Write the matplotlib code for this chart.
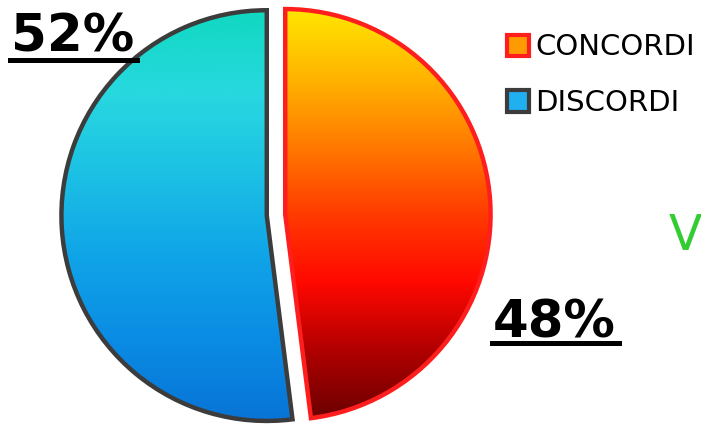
import numpy as np
import matplotlib
matplotlib.use("Agg")
import matplotlib.pyplot as plt
from matplotlib.colors import LinearSegmentedColormap
from matplotlib.patches import Rectangle
from matplotlib.lines import Line2D

labels = ["CONCORDI", "DISCORDI"]
shares = [48, 52]
pct_labels = ["48%", "52%"]

# vertical gradient stops for each slice (top -> bottom)
grad_concordi = ["#FFE600", "#FFB400", "#FF7A00", "#FF3A00", "#FF0800", "#B00000", "#6A0000"]
grad_discordi = ["#10D8C0", "#28D8E0", "#1CC0E4", "#10A4E8", "#0A8CE4", "#0874D6"]
edge_colors = ["#FF1E1E", "#3C3C3C"]

fig = plt.figure(figsize=(7.01, 4.25), dpi=100)
W, H = 701, 425

# pie axes: 460 px square centred on (276, 215) from top-left
ax = fig.add_axes([46 / W, (210 - 230) / H, 460 / W, 460 / H])
ax.axis("off")

wedges, _ = ax.pie(shares, startangle=90, counterclock=False,
                   explode=[0.045, 0.045], radius=1.0)

for w, stops, ec in zip(wedges, [grad_concordi, grad_discordi], edge_colors):
    w.set_facecolor("none")
    w.set_edgecolor(ec)
    w.set_linewidth(3.2)
    w.set_zorder(3)
    cmap = LinearSegmentedColormap.from_list("g", stops)
    cx, cy = w.center
    r = w.r
    img = ax.imshow(np.linspace(0, 1, 256).reshape(-1, 1), cmap=cmap,
                    extent=[cx - r, cx + r, cy - r, cy + r],
                    origin="upper", aspect="auto", zorder=2)
    img.set_clip_path(w.get_path(), w.get_transform())

ax.set_xlim(-1.12, 1.12)
ax.set_ylim(-1.12, 1.12)
ax.set_aspect("equal")

# percentage labels, underlined
t52 = fig.text(11 / W, 1 - 51 / H, pct_labels[1], fontsize=37, fontweight="bold",
               ha="left", va="baseline", color="black")
t48 = fig.text(493 / W, 1 - 337 / H, pct_labels[0], fontsize=37, fontweight="bold",
               ha="left", va="baseline", color="black")

fig.canvas.draw()
renderer = fig.canvas.get_renderer()
for t, uy in [(t52, 60), (t48, 343)]:
    bb = t.get_window_extent(renderer)
    x0 = (bb.x0 - 1) / W
    x1 = (bb.x1 + 3) / W
    fig.add_artist(Line2D([x0, x1], [1 - uy / H, 1 - uy / H], color="black",
                          linewidth=3.6, transform=fig.transFigure))

# legend
handles = [Rectangle((0, 0), 1, 1, facecolor="#FF9A00", edgecolor="#FF1E1E", linewidth=3),
           Rectangle((0, 0), 1, 1, facecolor="#20B0F0", edgecolor="#3C3C3C", linewidth=3)]
fig.legend(handles, labels, loc="upper left", bbox_to_anchor=(487 / W, 1 - 13 / H),
           frameon=False, prop={"size": 21}, handlelength=0.75, handleheight=0.75,
           handletextpad=0.2, labelspacing=0.95, borderpad=0.2)

fig.text(669 / W, 1 - 250 / H, "V", fontsize=35, color="#33CC33",
         ha="left", va="baseline")

fig.savefig("out.png", dpi=100)
